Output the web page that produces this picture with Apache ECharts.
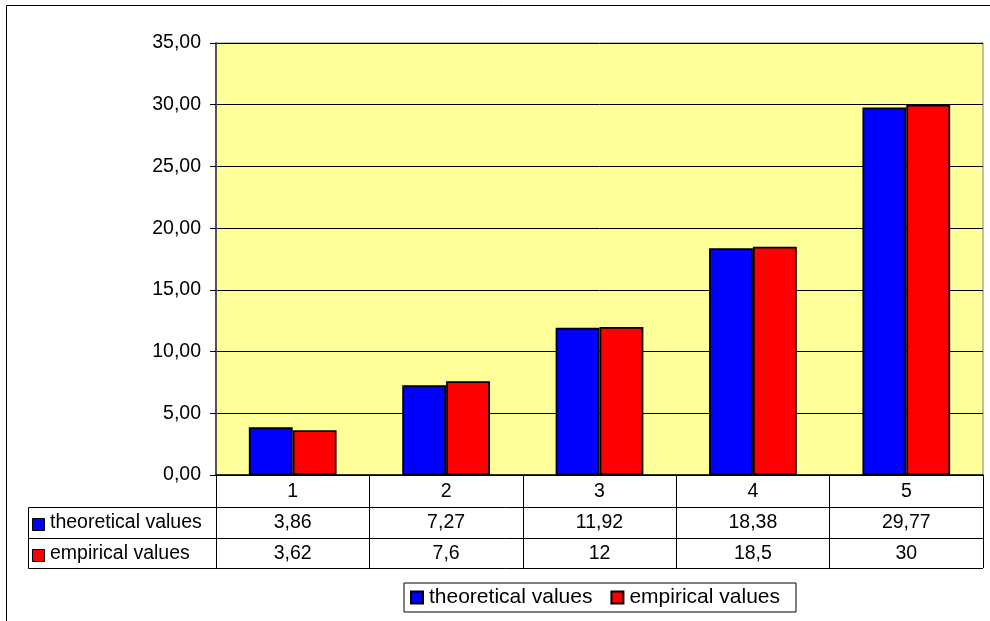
<!DOCTYPE html>
<html>
<head>
<meta charset="utf-8">
<script src="https://cdn.jsdelivr.net/npm/echarts@6/dist/echarts.min.js"></script>
<style>
  html, body { margin: 0; padding: 0; background: #ffffff; }
  #chart { width: 990px; height: 621px; }
</style>
</head>
<body>
<div id="chart"></div>
<script>
// Data
const categories = ['1', '2', '3', '4', '5'];
const theoreticalValues = [3.86, 7.27, 11.92, 18.38, 29.77];
const empiricalValues = [3.62, 7.6, 12, 18.5, 30];
const seriesNames = ['theoretical values', 'empirical values'];
const seriesColors = ['#0000FF', '#FF0000'];
const yMin = 0, yMax = 35, yStep = 5;

const FONT = '"Liberation Sans", Arial, Helvetica, sans-serif';
const FS = 19.5;
const LEGEND_FS = 21;

// Layout of the plot area and data table
const G = { left: 216, top: 43, width: 767, height: 432 };
const tableLeft = 28.5;
const rowLines = [507.5, 538.5, 568.5];

const commaNum = v => String(v).replace('.', ',');

const chart = echarts.init(document.getElementById('chart'));

chart.setOption({
  animation: false,
  backgroundColor: '#ffffff',
  textStyle: { fontFamily: FONT },
  grid: {
    left: G.left, top: G.top, width: G.width, height: G.height,
    show: true, backgroundColor: '#FFFF99', borderColor: '#808080', borderWidth: 1
  },
  legend: {
    left: 404, top: 583,
    padding: [4, 16, 4, 6],
    borderColor: '#000', borderWidth: 1,
    itemWidth: 12, itemHeight: 12, itemGap: 18,
    icon: 'rect',
    textStyle: { fontFamily: FONT, fontSize: LEGEND_FS, color: '#000', padding: [0, 0, 0, 1] },
    data: seriesNames
  },
  xAxis: {
    type: 'category',
    data: categories,
    axisLine: { show: true, lineStyle: { color: '#000', width: 1.5 } },
    axisTick: { show: true, length: 93, lineStyle: { color: '#000', width: 1 } },
    axisLabel: { margin: 7, fontFamily: FONT, fontSize: FS, color: '#000' },
    splitLine: { show: false }
  },
  yAxis: {
    type: 'value',
    min: yMin, max: yMax, interval: yStep,
    axisLine: { show: true, lineStyle: { color: '#555', width: 2 } },
    axisTick: { show: true, length: 6, lineStyle: { color: '#000' } },
    axisLabel: {
      margin: 15, fontFamily: FONT, fontSize: FS, color: '#000',
      formatter: v => v.toFixed(2).replace('.', ',')
    },
    splitLine: { show: true, lineStyle: { color: '#000', width: 1 } }
  },
  series: [
    {
      name: seriesNames[0], type: 'bar', data: theoreticalValues,
      barGap: '0%', barCategoryGap: '42.8%',
      itemStyle: { color: seriesColors[0], borderColor: '#000', borderWidth: 1.8 }
    },
    {
      name: seriesNames[1], type: 'bar', data: empiricalValues,
      barGap: '0%', barCategoryGap: '42.8%',
      itemStyle: { color: seriesColors[1], borderColor: '#000', borderWidth: 1.8 }
    }
  ]
});

// Data table below the plot: row labels with keys, and values centred on each category
const rowsData = [theoreticalValues, empiricalValues];
const rowCenters = [(rowLines[0] + rowLines[1]) / 2, (rowLines[1] + rowLines[2]) / 2];
const rightEdge = G.left + G.width;
const graphics = [];

// outer frame
graphics.push({
  type: 'rect', silent: true, z: 100,
  shape: { x: 6.5, y: 5.5, width: 1000, height: 700 },
  style: { fill: null, stroke: '#000', lineWidth: 1 }
});

// horizontal table lines
rowLines.forEach(y => {
  graphics.push({
    type: 'line', silent: true, z: 50,
    shape: { x1: tableLeft, y1: y, x2: rightEdge, y2: y },
    style: { stroke: '#000', lineWidth: 1 }
  });
});
// left edge of the row-label column
graphics.push({
  type: 'line', silent: true, z: 50,
  shape: { x1: tableLeft, y1: rowLines[0], x2: tableLeft, y2: rowLines[2] },
  style: { stroke: '#000', lineWidth: 1 }
});

rowsData.forEach((vals, r) => {
  const cy = rowCenters[r];
  // key square
  graphics.push({
    type: 'rect', silent: true, z: 50,
    shape: { x: 32.5, y: Math.round(cy - 5) + 0.5, width: 12, height: 12 },
    style: { fill: seriesColors[r], stroke: '#000', lineWidth: 1 }
  });
  graphics.push({
    type: 'text', silent: true, z: 50,
    x: 50, y: cy,
    style: { text: seriesNames[r], font: FS + 'px ' + FONT, fill: '#000', verticalAlign: 'middle', align: 'left' }
  });
  vals.forEach((v, i) => {
    const cx = chart.convertToPixel({ xAxisIndex: 0 }, categories[i]);
    graphics.push({
      type: 'text', silent: true, z: 50,
      x: cx, y: cy,
      style: { text: commaNum(v), font: FS + 'px ' + FONT, fill: '#000', verticalAlign: 'middle', align: 'center' }
    });
  });
});

chart.setOption({ graphic: graphics });
</script>
</body>
</html>
